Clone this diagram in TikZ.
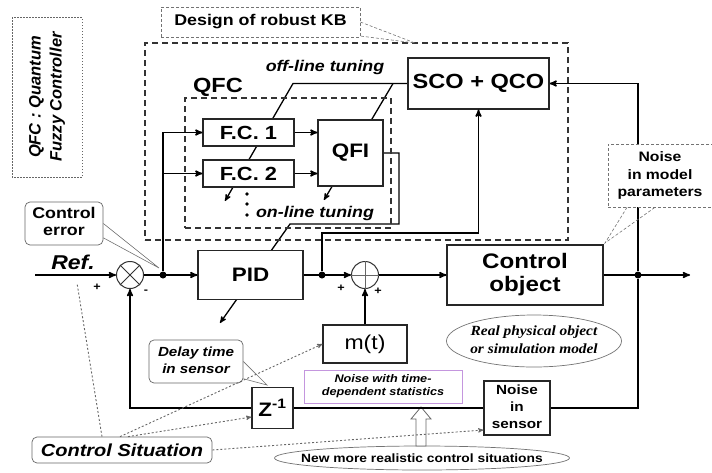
\documentclass[tikz,border=0pt]{standalone}
\usepackage{fontspec}
\setmainfont{Liberation Sans}[FakeStretch=1.15]
\newfontfamily\rotsans{Liberation Sans}
\newfontfamily\objserif{Liberation Serif}[FakeStretch=1.1]
\usetikzlibrary{arrows,shapes,positioning,backgrounds}
\definecolor{lilac}{RGB}{196,150,222}
\tikzset{
	block/.style={
		rectangle,
		draw=black!85,
		line width=1.1pt,
		fill=white,
		inner sep=0pt,
		text centered,
		font=\fontsize{19.5}{23}\selectfont\bfseries,
	},
	callout/.style={
		rectangle,
		rounded corners=5pt,
		draw=black!60,
		line width=0.7pt,
		fill=white,
		inner sep=0pt,
		text centered,
	},
	dnote/.style={
		rectangle,
		draw=black!55,
		dash pattern=on 3pt off 2pt,
		line width=0.7pt,
		fill=white,
		inner sep=0pt,
		text centered,
	},
	dframe/.style={
		rectangle,
		draw=black!80,
		line width=1.3pt,
		dash pattern=on 6pt off 4pt,
		inner sep=0pt,
	},
	summer/.style={
		circle,
		draw=black!80,
		line width=1pt,
		fill=white,
		minimum size=27pt,
		inner sep=0pt,
	},
	jdot/.style={circle, fill=black, inner sep=0pt, minimum size=7pt},
	sig/.style={line width=1.5pt},
	tune/.style={line width=1.3pt},
	pointer/.style={draw=black!55, line width=0.6pt},
	situ/.style={draw=black!60, line width=0.9pt, dash pattern=on 2pt off 2pt},
	sign/.style={font=\fontsize{11}{11}\selectfont\bfseries},
}

\begin{document}
\begin{tikzpicture}[x=1pt,y=-1pt,>=stealth']
	\useasboundingbox (0,0) rectangle (712,472);
	
	\node[draw=black!60, line width=0.7pt, dash pattern=on 1.5pt off 1.5pt,
	minimum width=160pt, minimum height=70pt, inner sep=0pt, rotate=90,
	font=\rotsans\fontsize{16.5}{21}\selectfont\bfseries\itshape] (QFCNOTE) at (47,97)
	{
		\begin{tabular}{c}
		QFC : Quantum\\
		Fuzzy Controller
		\end{tabular}
	};
	
	\node[dnote, minimum width=199pt, minimum height=30pt,
	font=\fontsize{15.5}{18}\selectfont\bfseries] (KBNOTE) at (260.5,22) {Design of robust KB};
	\node[dframe, minimum width=423pt, minimum height=197pt] (KB) at (356.5,141.5) {};
	\node[font=\fontsize{20.5}{24}\selectfont\bfseries] (QFCLABEL) at (218,87) {QFC};
	\node[dframe, minimum width=206pt, minimum height=130pt] (QFC) at (288,163) {};
	
	\node[font=\fontsize{15.5}{18}\selectfont\bfseries\itshape] (OFFLINE) at (325,67) {off-line tuning};
	\node[font=\fontsize{15.5}{18}\selectfont\bfseries\itshape] (ONLINE) at (315,213) {on-line tuning};
	\foreach \yy in {194,204,215}
		\fill (247,\yy) circle (1.9pt);
	
	\node[block, minimum width=91pt, minimum height=27pt,
	font=\fontsize{19}{22}\selectfont\bfseries] (FC1) at (248.5,132.5) {F.C. 1};
	\node[block, minimum width=91pt, minimum height=27pt,
	font=\fontsize{19}{22}\selectfont\bfseries] (FC2) at (248.5,173.5) {F.C. 2};
	\node[block, minimum width=65pt, minimum height=66pt] (QFI) at (350.5,153) {QFI};
	\node[block, minimum width=141pt, minimum height=51pt,
	font=\fontsize{20.5}{24}\selectfont\bfseries] (SCO) at (478.5,83.5) {SCO + QCO};
	
	\node[block, minimum width=105pt, minimum height=49pt] (PID) at (250.5,275) {PID};
	\node[block, minimum width=156pt, minimum height=60pt,
	font=\fontsize{21}{23}\selectfont\bfseries] (PLANT) at (525,275)
	{
		\begin{tabular}{c}
		Control\\
		object
		\end{tabular}
	};
	\node[block, minimum width=84pt, minimum height=38pt,
	font=\fontsize{20}{23}\selectfont] (MT) at (365,344) {m(t)};
	\node[block, minimum width=41pt, minimum height=41pt] (ZINV) at (272.5,408) {Z\textsuperscript{-1}};
	\node[block, minimum width=66pt, minimum height=54pt,
	font=\fontsize{13.3}{17}\selectfont\bfseries] (SENSOR) at (517,408)
	{
		\begin{tabular}{c}
		Noise\\
		in\\
		sensor
		\end{tabular}
	};
	
	\node[summer] (SUM1) at (130,275) {};
	\draw[line width=1pt, black!80] (SUM1.north west) -- (SUM1.south east)
		(SUM1.north east) -- (SUM1.south west);
	\node[summer] (SUM2) at (365,275) {};
	\draw[line width=0.8pt, black!60] (SUM2.north) -- (SUM2.south)
		(SUM2.west) -- (SUM2.east);
	
	\node[jdot] (J1) at (163,275) {};
	\node[jdot] (J2) at (322,275) {};
	\node[jdot] (J3) at (638,275) {};
	
	\node[font=\fontsize{20}{23}\selectfont\bfseries\itshape] (REF) at (73,262) {Ref.};
	\node[sign] (PA) at (97,287) {+};
	\node[sign] (MA) at (146,292) {-};
	\node[sign] (PB) at (341,288) {+};
	\node[sign] (PC) at (378,291) {+};
	
	\node[rectangle, draw=lilac, line width=0.8pt, minimum width=158pt, minimum height=33pt,
	inner sep=0pt, font=\fontsize{11}{13}\selectfont\bfseries\itshape] (NSTAT) at (383,386.5)
	{
		\begin{tabular}{c}
		Noise with time-\\
		dependent statistics
		\end{tabular}
	};
	\node[ellipse, draw=black!55, line width=0.7pt, minimum width=175pt, minimum height=52pt,
	inner sep=0pt, font=\objserif\fontsize{14}{18}\selectfont\bfseries\itshape] (REAL) at (534,341)
	{\makebox[0pt]{\begin{tabular}{c}
		Real physical object\\
		or simulation model
		\end{tabular}}};
	\node[ellipse, draw=black!55, line width=0.7pt, fill=white, minimum width=295pt,
	minimum height=24pt, inner sep=0pt,
	font=\fontsize{12}{14}\selectfont\bfseries] (NEWSIT) at (422,458)
	{\makebox[0pt]{New more realistic control situations}};
	
	% hollow arrow up to the noise
	\coordinate (UPBASE) at (421,446);
	\draw[draw=black!60, line width=0.8pt, fill=white] (UPBASE) ++(-5,0) -- ++(0,-27)
		-- ++(-5,0) -- ++(10,-12) -- ++(10,12) -- ++(-5,0) -- ++(0,27) -- cycle;
	
	\node[callout, minimum width=78pt, minimum height=43pt,
	font=\fontsize{15.5}{17}\selectfont\bfseries] (ERR) at (64,223.5)
	{
		\begin{tabular}{c}
		Control\\
		error
		\end{tabular}
	};
	\node[callout, minimum width=94pt, minimum height=43pt,
	font=\fontsize{13.2}{17}\selectfont\bfseries\itshape] (DELAY) at (196,361.5)
	{
		\begin{tabular}{c}
		Delay time\\
		in sensor
		\end{tabular}
	};
	\node[callout, minimum width=180pt, minimum height=26pt,
	font=\fontsize{17.4}{20}\selectfont\bfseries\itshape] (SITU) at (122,450) {Control Situation};
	\node[dnote, minimum width=104pt, minimum height=63pt,
	font=\fontsize{13.7}{17.5}\selectfont\bfseries] (MODEL) at (660,175.5)
	{
		\begin{tabular}{c}
		Noise\\
		in model\\
		parameters
		\end{tabular}
	};
	
	\coordinate (REFIN) at (35,275);
	\coordinate (OUT) at (690,275);
	\coordinate (TAP) at (322,233);
	\coordinate (TUNEA) at (293,83.5);
	\coordinate (TUNEAEND) at (225,201);
	\coordinate (TUNEB) at (393,83.5);
	\coordinate (TUNEBEND) at (324,200);
	\coordinate (QFIR) at (399,153);
	\coordinate (QFIB) at (399,224);
	\coordinate (TUNEC) at (290,224);
	\coordinate (TUNECEND) at (220,323);
	\coordinate (KBTIP) at (415,43);
	\coordinate (ERRTIP) at (159,268);
	\coordinate (DELAYTIP) at (267,385);
	\coordinate (MODELTIP) at (605,243);
	\coordinate (SITREF) at (77,283);
	
	\begin{pgfonlayer}{background}
		\draw[tune,->] (SCO.west) -- (TUNEA) -- (TUNEAEND);
		\draw[tune,->] (TUNEB) -- (TUNEBEND);
		\draw[tune,->] (QFI.east) -- (QFIR) -- (QFIB) -- (TUNEC) -- (TUNECEND);
		\draw[sig,->] (J3) |- (SCO.east);
	\end{pgfonlayer}
	
	\draw[sig,->] (REFIN) -- (SUM1);
	\draw[sig,->] (SUM1) -- (PID);
	\draw[sig,->] (J1) |- (FC1);
	\draw[sig,->] (J1 |- FC2) -- (FC2);
	\draw[sig,->] (FC1) -- (FC1 -| QFI.west);
	\draw[sig,->] (FC2) -- (FC2 -| QFI.west);
	\draw[sig,->] (PID) -- (SUM2);
	\draw[sig,->] (J2) -- (TAP) -| (SCO.south);
	\draw[sig,->] (SUM2) -- (PLANT);
	\draw[sig,->] (PLANT) -- (OUT);
	\draw[sig,->] (MT) -- (SUM2);
	\draw[sig] (J3) |- (SENSOR);
	\draw[sig] (SENSOR) -- (ZINV);
	\draw[sig,->] (ZINV) -| (SUM1);
	
	\draw[pointer, dash pattern=on 3pt off 2pt] (KBNOTE.east) -- (KBTIP) -- (KBNOTE.-8);
	\draw[pointer] (ERR.east) -- (ERRTIP) -- (ERR.-20);
	\draw[pointer] (DELAY.east) -- (DELAYTIP) -- (DELAY.-20);
	\draw[pointer, dash pattern=on 3pt off 2pt] (MODEL.-136) -- (MODELTIP) -- (MODEL.-99);
	
	\draw[situ] ([xshift=-20pt]SITU.north) -- (SITREF);
	\draw[situ,->] ([xshift=-2pt]SITU.north) -- (MT.west);
	\draw[situ,->] ([xshift=6pt]SITU.north) -- ([yshift=-9pt]ZINV.west);
	\draw[situ,->] (SITU.east) -- ([yshift=-22pt]SENSOR.west);
	
\end{tikzpicture}
\end{document}
